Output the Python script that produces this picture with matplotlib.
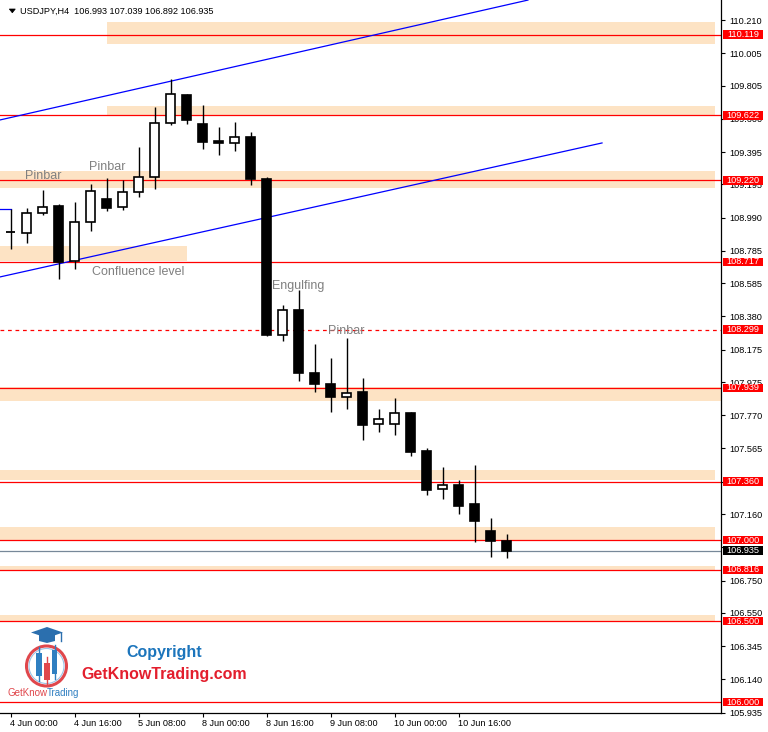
import matplotlib
matplotlib.use('Agg')
import matplotlib.pyplot as plt
from matplotlib.patches import Rectangle, Circle, Polygon

plt.rcParams['font.family'] = ['Liberation Sans', 'DejaVu Sans']

# ---------------- data ----------------
title_text = "USDJPY,H4  106.993 107.039 106.892 106.935"

opens  = [108.898, 108.896, 109.019, 109.060, 108.720, 108.964, 109.105, 109.055,
          109.148, 109.241, 109.574, 109.746, 109.569, 109.464, 109.450, 109.487,
          109.230, 108.265, 108.417, 108.033, 107.965, 107.885, 107.916, 107.715,
          107.719, 107.782, 107.550, 107.312, 107.339, 107.222, 107.054, 106.993]
highs  = [109.046, 109.052, 109.158, 109.076, 109.087, 109.198, 109.235, 109.224,
          109.426, 109.672, 109.846, 109.754, 109.686, 109.549, 109.583, 109.516,
          109.241, 108.448, 108.542, 108.208, 108.121, 108.249, 107.998, 107.807,
          107.875, 107.790, 107.567, 107.450, 107.370, 107.462, 107.136, 107.039]
lows   = [108.799, 108.834, 109.008, 108.612, 108.670, 108.906, 109.029, 109.039,
          109.118, 109.169, 109.559, 109.567, 109.413, 109.374, 109.399, 109.193,
          108.259, 108.228, 107.981, 107.915, 107.793, 107.811, 107.618, 107.664,
          107.649, 107.519, 107.279, 107.254, 107.160, 106.986, 106.893, 106.892]
closes = [108.901, 109.019, 109.056, 108.717, 108.964, 109.152, 109.050, 109.148,
          109.241, 109.574, 109.752, 109.590, 109.460, 109.450, 109.487, 109.228,
          108.265, 108.421, 108.033, 107.965, 107.883, 107.910, 107.710, 107.750,
          107.782, 107.544, 107.310, 107.339, 107.211, 107.119, 106.996, 106.935]

time_tick_idx = [0, 4, 8, 12, 16, 20, 24, 28]
time_tick_labels = ["4 Jun 00:00", "4 Jun 16:00", "5 Jun 08:00", "8 Jun 00:00",
                    "8 Jun 16:00", "9 Jun 08:00", "10 Jun 00:00", "10 Jun 16:00"]

price_ticks = [110.210, 110.005, 109.805, 109.600, 109.395, 109.195, 108.990, 108.785,
               108.585, 108.380, 108.175, 107.975, 107.770, 107.565, 107.360, 107.160,
               106.955, 106.750, 106.550, 106.345, 106.140, 105.935]
hidden_tick_labels = [107.360, 106.955]   # fully covered by price boxes in the reference

levels = [110.119, 109.622, 109.220, 108.717, 108.299, 107.939, 107.360,
          107.000, 106.816, 106.500, 106.000]
level_dashed = [108.299]
current_price = 106.935

# zones: (start index, end index, low price, high price)
zone_start = [6, 6, -5, -5, -5, -5, -5, -5, -5]
zone_end   = [44, 44, 44, 11, 50, 44, 44, 44, 44]
zone_low   = [110.062, 109.618, 109.175, 108.722, 107.856, 107.369, 106.996, 106.810, 106.495]
zone_high  = [110.198, 109.680, 109.280, 108.818, 107.943, 107.431, 107.080, 106.842, 106.537]

# channel lines: (candle index list, price list)
upper_channel = ([-0.656, 32.34], [109.593, 110.333])
lower_channel = ([-0.656, 36.97], [108.624, 109.451])
small_blue = ([-0.656, 0.0], [109.043, 109.043])

# ---------------- figure ----------------
W, H = 768, 732
fig = plt.figure(figsize=(W / 100, H / 100), dpi=100)
AX_R, AX_B = 721, 713
ax = fig.add_axes([0, (H - AX_B) / H, AX_R / W, AX_B / H])
ax.set_xlim(-10.5 / 16, (AX_R - 10.5) / 16)
ax.set_ylim(110.21 - (AX_B - 20) / 162, 110.21 + 20 / 162)

for s in ['top', 'left']:
    ax.spines[s].set_visible(False)
for s in ['right', 'bottom']:
    ax.spines[s].set_linewidth(0.9)
    ax.spines[s].set_color('black')

# zones
zone_color = '#FDE3C4'
for x0, x1, lo, hi in zip(zone_start, zone_end, zone_low, zone_high):
    ax.add_patch(Rectangle((x0, lo), x1 - x0, hi - lo, fc=zone_color, ec='none', zorder=1))

# horizontal levels
for lv in levels:
    ls = (0, (3, 3)) if lv in level_dashed else '-'
    ax.axhline(lv, color='#ff0000', lw=0.9, ls=ls, zorder=2)
ax.axhline(current_price, color='#778899', lw=0.9, zorder=2)

# channels
ax.plot(*upper_channel, color='#0000ff', lw=0.9, zorder=2.2)
ax.plot(*lower_channel, color='#0000ff', lw=0.9, zorder=2.2)
ax.plot(*small_blue, color='#0000ff', lw=0.9, zorder=2.2)

# candles
bw = 0.6
for i, (o, h, l, c) in enumerate(zip(opens, highs, lows, closes)):
    ax.vlines(i, l, h, color='black', lw=1.0, zorder=3)
    lo_b, hi_b = min(o, c), max(o, c)
    if hi_b - lo_b < 0.006:
        ax.hlines((o + c) / 2, i - bw / 2, i + bw / 2, color='black', lw=1.3, zorder=4)
    else:
        fc = 'white' if c > o else 'black'
        ax.add_patch(Rectangle((i - bw / 2, lo_b), bw, hi_b - lo_b, fc=fc, ec='black',
                               lw=1.2, zorder=4))

# axes ticks
ax.yaxis.tick_right()
ax.set_yticks(price_ticks)
ax.set_yticklabels(["" if p in hidden_tick_labels else f"{p:.3f}" for p in price_ticks])
ax.tick_params(axis='y', direction='out', length=3, width=0.8, pad=3, labelsize=6.6,
               colors='black')
ax.set_xticks(time_tick_idx)
ax.set_xticklabels(time_tick_labels, ha='left')
ax.tick_params(axis='x', direction='out', length=3, width=0.8, pad=1.2, labelsize=6.6,
               colors='black')

# price labels on axis
ytr = ax.get_yaxis_transform()
bx0 = 722.7 / AX_R
bwid = 40.6 / AX_R
bh = 8.6 / 162
def price_label(p, fc):
    ax.add_patch(Rectangle((bx0, p - bh / 2), bwid, bh, fc=fc, ec='none',
                           transform=ytr, clip_on=False, zorder=6))
    ax.text(bx0 + bwid / 2, p, f"{p:.3f}", transform=ytr, ha='center', va='center',
            color='white', fontsize=6.6, clip_on=False, zorder=7)
for lv in levels:
    price_label(lv, '#ff0000')
price_label(current_price, 'black')

# ---------------- overlay (pixel coords) ----------------
ov = fig.add_axes([0, 0, 1, 1], zorder=10)
ov.set_xlim(0, W)
ov.set_ylim(H, 0)
ov.axis('off')
ov.patch.set_alpha(0)

# title
ov.add_patch(Polygon([(9.3, 9), (15.3, 9), (12.3, 12.8)], closed=True, fc='black', ec='black', lw=0.5))
ov.text(20, 11.3, title_text, fontsize=6.6, color='black', ha='left', va='center')

# annotations
ann_color = '#808080'
ov.text(43, 176, "Pinbar", fontsize=9, color=ann_color, ha='center', va='center')
ov.text(107, 167, "Pinbar", fontsize=9, color=ann_color, ha='center', va='center')
ov.text(138, 272, "Confluence level", fontsize=9, color=ann_color, ha='center', va='center')
ov.text(298.5, 286.5, "Engulfing", fontsize=9, color=ann_color, ha='center', va='center')
ov.text(346.5, 330.5, "Pinbar", fontsize=9, color=ann_color, ha='center', va='center')

# logo
red_c = '#e0474c'
blue_c = '#2f7fc1'
ov.add_patch(Circle((46.5, 666), 20, fill=False, ec=red_c, lw=2.2))
ov.add_patch(Circle((46.5, 666), 17.5, fill=False, ec='#9cc3e6', lw=0.8))
for xc, yw0, yw1, yb0, yb1, col in [(39, 647, 681, 653, 676, blue_c),
                                     (47, 657, 684, 663, 680, red_c),
                                     (54.5, 645, 679, 650, 674, blue_c)]:
    ov.plot([xc, xc], [yw0, yw1], color=col, lw=1.0)
    ov.add_patch(Rectangle((xc - 2.6, yb0), 5.2, yb1 - yb0, fc=col, ec='none'))
ov.add_patch(Polygon([(31, 632.5), (47, 627), (63, 632.5), (47, 638)], closed=True,
                     fc='#2b6fae', ec='none'))
ov.add_patch(Polygon([(39, 635), (55, 635), (55, 641), (47, 643), (39, 641)], closed=True,
                     fc='#2b6fae', ec='none'))
ov.plot([61, 61], [633, 641], color='#2b6fae', lw=1.0)
ov.text(7, 692.5, "GetKnow", fontsize=7, color=red_c, ha='left', va='center')
ov.text(47, 692.5, "Trading", fontsize=7, color=blue_c, ha='left', va='center')
ov.text(164, 652, "Copyright", fontsize=11.5, fontweight='bold', color='#1c75bc',
        ha='center', va='center')
ov.text(164.5, 675, "GetKnowTrading.com", fontsize=11.5, fontweight='bold', color='#e31e2d',
        ha='center', va='center')

fig.savefig('out.png', dpi=100, facecolor='white')
